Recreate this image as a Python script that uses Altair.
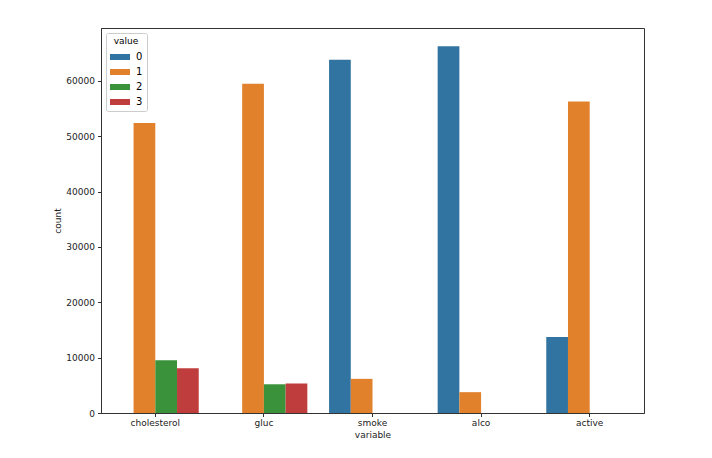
import altair as alt
import pandas as pd

variables = ["cholesterol", "gluc", "smoke", "alco", "active"]
hue_levels = [0, 1, 2, 3]
var_col = ["cholesterol", "cholesterol", "cholesterol", "gluc", "gluc", "gluc",
           "smoke", "smoke", "alco", "alco", "active", "active"]
val_col = [1, 2, 3, 1, 2, 3, 0, 1, 0, 1, 0, 1]
counts = [52385, 9549, 8066, 59479, 5190, 5331, 63831, 6169, 66236, 3764, 13739, 56261]
colors = ["#3274a1", "#e1812c", "#3a923a", "#c03d3e"]
y_ticks = [0, 10000, 20000, 30000, 40000, 50000, 60000]

df = pd.DataFrame({"variable": var_col, "value": val_col, "count": counts})

font = "DejaVu Sans"
base = alt.Chart(df).mark_bar().encode(
    x=alt.X("variable:N", sort=variables,
            scale=alt.Scale(domain=variables, paddingInner=0.2, paddingOuter=0.1),
            axis=alt.Axis(title="variable", labelAngle=0, tickSize=3.5, labelPadding=2,
                          titlePadding=3, domainColor="#333", tickColor="#333")),
    xOffset=alt.XOffset("value:N", scale=alt.Scale(domain=hue_levels, paddingInner=0, paddingOuter=0)),
    y=alt.Y("count:Q", scale=alt.Scale(domain=[0, 69548], nice=False),
            axis=alt.Axis(title="count", values=y_ticks, format="d", tickSize=3.5, labelPadding=3,
                          titlePadding=3, grid=False, domainColor="#333", tickColor="#333")),
    color=alt.Color("value:N", scale=alt.Scale(domain=hue_levels, range=colors),
                    legend=alt.Legend(title="value", orient="none", legendX=5, legendY=5,
                                      symbolType="M-1,-0.3L1,-0.3L1,0.3L-1,0.3Z",
                                      symbolSize=400, symbolStrokeWidth=0,
                                      fillColor="white", strokeColor="#ccc",
                                      padding=4, cornerRadius=2, titlePadding=1,
                                      titleAnchor="middle", titleFontWeight="normal",
                                      titleFontSize=9, labelFontSize=10, rowPadding=0,
                                      labelOffset=6,
                                      titleFont=font, labelFont=font)),
)

chart = base.properties(
    width=543, height=385,
    autosize=alt.AutoSizeParams(type="none"),
    padding={"left": 93, "top": 20, "right": 60, "bottom": 40},
).configure_view(stroke="#333", strokeWidth=1).configure_axis(
    labelFont=font, titleFont=font, labelFontSize=9, titleFontSize=9,
    titleFontWeight="normal", labelColor="#222", titleColor="#222"
)

chart.save("out.html", embed_options={"renderer": "svg", "actions": False})
